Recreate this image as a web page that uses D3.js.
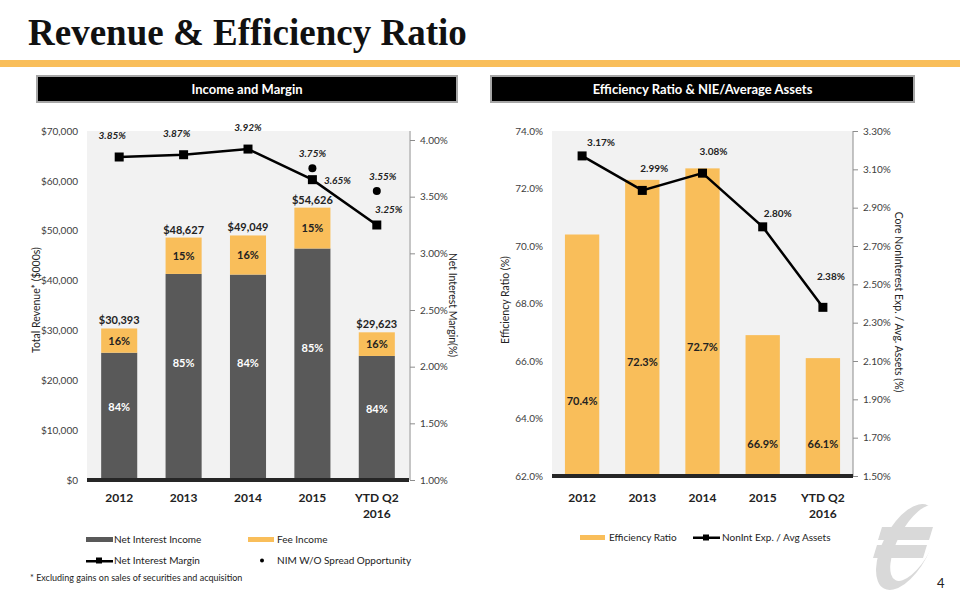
<!DOCTYPE html>
<html><head><meta charset="utf-8">
<script src="https://cdn.jsdelivr.net/npm/d3@7"></script>
<style>body{margin:0;background:#fff}svg{display:block}text{font-family:Lato,"Open Sans",sans-serif}</style>
</head><body><svg id="c" width="960" height="600"></svg>
<script>
const categories = ["2012", "2013", "2014", "2015", "YTD Q2 2016"];
const totalRevenue = [30393, 48627, 49049, 54626, 29623];
const netInterestIncome = [25530, 41333, 41201, 46432, 24883];
const feeIncome = [4863, 7294, 7848, 8194, 4740];
const niiPct = ["84%", "85%", "84%", "85%", "84%"];
const feePct = ["16%", "15%", "16%", "15%", "16%"];
const nim = [3.85, 3.87, 3.92, 3.65, 3.25];
const nimWoSpread = [null, null, null, 3.75, 3.55];
const efficiency = [70.4, 72.3, 72.7, 66.9, 66.1];
const nieAvgAssets = [3.17, 2.99, 3.08, 2.80, 2.38];
const revTicks = [0, 10000, 20000, 30000, 40000, 50000, 60000, 70000];
const nimTicks = [1.0, 1.5, 2.0, 2.5, 3.0, 3.5, 4.0];
const effTicks = [62, 64, 66, 68, 70, 72, 74];
const nieTicks = [1.5, 1.7, 1.9, 2.1, 2.3, 2.5, 2.7, 2.9, 3.1, 3.3];

const GOLD = "#f9be5a", DARK = "#595959", BG = "#f2f2f2", TXT = "#404040";
const svg = d3.select("#c");

// Header
svg.append("text").attr("x", 28).attr("y", 45).text("Revenue & Efficiency Ratio")
  .style("font-family", "'Liberation Serif',serif").style("font-weight", "bold").style("font-size", "37px").attr("fill", "#111");
svg.append("rect").attr("x", 0).attr("y", 60).attr("width", 960).attr("height", 7).attr("fill", GOLD);
function panelHeader(x, w, label) {
  svg.append("rect").attr("x", x).attr("y", 76).attr("width", w).attr("height", 26).attr("fill", "#000").attr("stroke", "#a6a6a6").attr("stroke-width", 2);
  svg.append("text").attr("x", x + w / 2).attr("y", 94).attr("text-anchor", "middle").attr("fill", "#fff")
    .style("font-weight", "bold").style("font-size", "13px").text(label);
}
panelHeader(37, 420, "Income and Margin");
panelHeader(491, 423, "Efficiency Ratio & NIE/Average Assets");

function xLabels(g, x, y0) {
  categories.forEach(c => {
    const t = g.append("text").attr("x", x(c) + x.bandwidth() / 2).attr("y", y0).attr("text-anchor", "middle")
      .attr("fill", "#222").style("font-weight", "bold").style("font-size", "12px");
    const parts = c === "YTD Q2 2016" ? ["YTD Q2", "2016"] : [c];
    parts.forEach((p, i) => t.append("tspan").attr("x", x(c) + x.bandwidth() / 2).attr("dy", i ? 16 : 0).text(p));
  });
}
function square(g, cx, cy, s) {
  g.append("rect").attr("x", cx - s / 2).attr("y", cy - s / 2).attr("width", s).attr("height", s).attr("fill", "#000");
}

// ===== Left chart =====
{
  const L = 87, R = 409, T = 131, B = 480;
  const g = svg.append("g");
  const x = d3.scaleBand().domain(categories).range([L, R]).paddingInner(0.44).paddingOuter(0.22);
  const y = d3.scaleLinear().domain([0, 70000]).range([B, T]);
  const y2 = d3.scaleLinear().domain([1.0, 4.0]).range([B, 140]);
  g.append("rect").attr("x", L).attr("y", T).attr("width", R - L).attr("height", B - T).attr("fill", BG);

  const ax = d3.axisLeft(y).tickValues(revTicks).tickSize(0).tickPadding(9).tickFormat(d => "$" + d3.format(",")(d));
  const ga = g.append("g").attr("transform", `translate(${L},0)`).call(ax);
  ga.select(".domain").remove();
  ga.selectAll("text").attr("fill", TXT).style("font-size", "10px").style("font-family", "Lato,sans-serif");

  const ax2 = d3.axisRight(y2).tickValues(nimTicks).tickSize(5).tickPadding(5).tickFormat(d => d.toFixed(2) + "%");
  const gb = g.append("g").attr("transform", `translate(${R + 1},0)`).call(ax2);
  gb.select(".domain").attr("d", `M0,${T}V${B}`).attr("stroke", "#8c8c8c");
  gb.selectAll("line").attr("stroke", "#8c8c8c");
  gb.selectAll("text").attr("fill", TXT).style("font-size", "10px").style("font-family", "Lato,sans-serif");

  categories.forEach((c, i) => {
    const bx = x(c), bw = x.bandwidth();
    g.append("rect").attr("x", bx).attr("y", y(netInterestIncome[i])).attr("width", bw)
      .attr("height", y(0) - y(netInterestIncome[i])).attr("fill", DARK);
    g.append("rect").attr("x", bx).attr("y", y(totalRevenue[i])).attr("width", bw)
      .attr("height", y(netInterestIncome[i]) - y(totalRevenue[i])).attr("fill", GOLD);
    g.append("text").attr("x", bx + bw / 2).attr("y", y(netInterestIncome[i] * 0.57) + 4).attr("text-anchor", "middle")
      .attr("fill", "#fff").style("font-weight", "bold").style("font-size", "11px").text(niiPct[i]);
    g.append("text").attr("x", bx + bw / 2).attr("y", y(netInterestIncome[i] + feeIncome[i] / 2) + 4).attr("text-anchor", "middle")
      .attr("fill", "#222").style("font-weight", "bold").style("font-size", "11px").text(feePct[i]);
    g.append("text").attr("x", bx + bw / 2).attr("y", y(totalRevenue[i]) - 4).attr("text-anchor", "middle")
      .attr("fill", "#222").style("font-weight", "bold").style("font-size", "11px").text("$" + d3.format(",")(totalRevenue[i]));
  });
  g.append("rect").attr("x", L).attr("y", B - 2).attr("width", R - L).attr("height", 4).attr("fill", "#262626");

  const cx = c => x(c) + x.bandwidth() / 2;
  g.append("path").datum(nim).attr("fill", "none").attr("stroke", "#000").attr("stroke-width", 2.5)
    .attr("d", d3.line().x((d, i) => cx(categories[i])).y(d => y2(d)));
  const nimLab = [[-7, -18], [-7, -18], [0, -18], [25, 4], [12, -12]];
  nim.forEach((d, i) => {
    square(g, cx(categories[i]), y2(d), 9);
    g.append("text").attr("x", cx(categories[i]) + nimLab[i][0]).attr("y", y2(d) + nimLab[i][1]).attr("text-anchor", "middle")
      .attr("fill", "#222").style("font-style", "italic").style("font-weight", "bold").style("font-size", "10px").text(d.toFixed(2) + "%");
  });
  nimWoSpread.forEach((d, i) => {
    if (d == null) return;
    g.append("circle").attr("cx", cx(categories[i])).attr("cy", y2(d)).attr("r", 4).attr("fill", "#000");
    g.append("text").attr("x", cx(categories[i]) + (i === 4 ? 6 : 0)).attr("y", y2(d) - 11).attr("text-anchor", "middle")
      .attr("fill", "#222").style("font-style", "italic").style("font-weight", "bold").style("font-size", "10px").text(d.toFixed(2) + "%");
  });

  xLabels(g, x, 502);

  g.append("text").attr("transform", "translate(40,300) rotate(-90)").attr("text-anchor", "middle")
    .attr("fill", "#222").style("font-size", "10.5px").text("Total Revenue* ($000s)");
  g.append("text").attr("transform", "translate(449,305) rotate(90)").attr("text-anchor", "middle")
    .attr("fill", "#222").style("font-size", "10.5px").text("Net Interest Margin(%)");

  // Legend
  g.append("rect").attr("x", 86).attr("y", 537).attr("width", 27).attr("height", 5).attr("fill", DARK);
  g.append("text").attr("x", 114).attr("y", 543).attr("fill", "#222").style("font-size", "10px").text("Net Interest Income");
  g.append("rect").attr("x", 248).attr("y", 537).attr("width", 26).attr("height", 5).attr("fill", GOLD);
  g.append("text").attr("x", 277).attr("y", 543).attr("fill", "#222").style("font-size", "10px").text("Fee Income");
  g.append("rect").attr("x", 86).attr("y", 560).attr("width", 27).attr("height", 2.5).attr("fill", "#000");
  square(g, 99, 560.5, 6);
  g.append("text").attr("x", 114).attr("y", 564).attr("fill", "#222").style("font-size", "10px").text("Net Interest Margin");
  g.append("circle").attr("cx", 262).attr("cy", 560.5).attr("r", 2).attr("fill", "#000");
  g.append("text").attr("x", 277).attr("y", 564).attr("fill", "#222").style("font-size", "10px").text("NIM W/O Spread Opportunity");
  g.append("text").attr("x", 30).attr("y", 581).attr("fill", "#222").style("font-size", "9px")
    .text("* Excluding gains on sales of securities and acquisition");
}

// ===== Right chart =====
{
  const L = 552, R = 853, T = 131, B = 476;
  const g = svg.append("g");
  const x = d3.scaleBand().domain(categories).range([L, R]).paddingInner(0.43).paddingOuter(0.215);
  const y = d3.scaleLinear().domain([62, 74]).range([B, T]);
  const y2 = d3.scaleLinear().domain([1.5, 3.3]).range([B, T]);
  g.append("rect").attr("x", L).attr("y", T).attr("width", R - L).attr("height", B - T).attr("fill", BG);

  const ax = d3.axisLeft(y).tickValues(effTicks).tickSize(0).tickPadding(9).tickFormat(d => d.toFixed(1) + "%");
  const ga = g.append("g").attr("transform", `translate(${L},0)`).call(ax);
  ga.select(".domain").remove();
  ga.selectAll("text").attr("fill", TXT).style("font-size", "10px").style("font-family", "Lato,sans-serif");

  const ax2 = d3.axisRight(y2).tickValues(nieTicks).tickSize(5).tickPadding(5).tickFormat(d => d.toFixed(2) + "%");
  const gb = g.append("g").attr("transform", `translate(${R},0)`).call(ax2);
  gb.select(".domain").attr("d", `M0,${T}V${B}`).attr("stroke", "#8c8c8c");
  gb.selectAll("line").attr("stroke", "#8c8c8c");
  gb.selectAll("text").attr("fill", TXT).style("font-size", "10px").style("font-family", "Lato,sans-serif");

  const effLabelAt = [64.6, 65.95, 66.5, 63.1, 63.1];
  categories.forEach((c, i) => {
    const bx = x(c), bw = x.bandwidth();
    g.append("rect").attr("x", bx).attr("y", y(efficiency[i])).attr("width", bw)
      .attr("height", y(62) - y(efficiency[i])).attr("fill", GOLD);
    g.append("text").attr("x", bx + bw / 2).attr("y", y(effLabelAt[i]) + 4).attr("text-anchor", "middle")
      .attr("fill", "#222").style("font-weight", "bold").style("font-size", "11px").text(efficiency[i].toFixed(1) + "%");
  });
  g.append("rect").attr("x", L).attr("y", B - 2).attr("width", R - L).attr("height", 4).attr("fill", "#262626");

  const cx = c => x(c) + x.bandwidth() / 2;
  g.append("path").datum(nieAvgAssets).attr("fill", "none").attr("stroke", "#000").attr("stroke-width", 2.5)
    .attr("d", d3.line().x((d, i) => cx(categories[i])).y(d => y2(d)));
  const lab = [[19, -10], [12, -18], [11, -18], [15, -10], [8, -27]];
  nieAvgAssets.forEach((d, i) => {
    square(g, cx(categories[i]), y2(d), 9);
    g.append("text").attr("x", cx(categories[i]) + lab[i][0]).attr("y", y2(d) + lab[i][1]).attr("text-anchor", "middle")
      .attr("fill", "#222").style("font-weight", "bold").style("font-size", "10px").text(d.toFixed(2) + "%");
  });

  xLabels(g, x, 502);

  g.append("text").attr("transform", "translate(509,300) rotate(-90)").attr("text-anchor", "middle")
    .attr("fill", "#222").style("font-size", "10.5px").text("Efficiency Ratio (%)");
  g.append("text").attr("transform", "translate(895,302) rotate(90)").attr("text-anchor", "middle")
    .attr("fill", "#222").style("font-size", "10.5px").text("Core NonInterest Exp. / Avg. Assets (%)");

  g.append("rect").attr("x", 580).attr("y", 535).attr("width", 25).attr("height", 5).attr("fill", GOLD);
  g.append("text").attr("x", 609).attr("y", 541).attr("fill", "#222").style("font-size", "10px").text("Efficiency Ratio");
  g.append("rect").attr("x", 693).attr("y", 536.5).attr("width", 27).attr("height", 2.5).attr("fill", "#000");
  square(g, 706, 537.5, 6);
  g.append("text").attr("x", 722).attr("y", 541).attr("fill", "#222").style("font-size", "10px").text("NonInt Exp. / Avg Assets");
}

// Logo watermark and page number
{
  const g = svg.append("g");
  g.append("ellipse").attr("cx", 906).attr("cy", 547).attr("rx", 23).attr("ry", 47)
    .attr("transform", "rotate(28,906,547)").attr("fill", "#d9d9d9");
  g.append("ellipse").attr("cx", 915).attr("cy", 543).attr("rx", 17).attr("ry", 42)
    .attr("transform", "rotate(28,915,543)").attr("fill", "#fff");
  g.append("path").attr("d", "M882,527 L933,527 L929,540 L878,540 Z").attr("fill", "#d9d9d9");
  g.append("path").attr("d", "M877,545 L927,545 L923,558 L873,558 Z").attr("fill", "#d9d9d9");
  svg.append("text").attr("x", 937).attr("y", 588).attr("fill", "#222").style("font-size", "13px").text("4");
}
</script></body></html>
